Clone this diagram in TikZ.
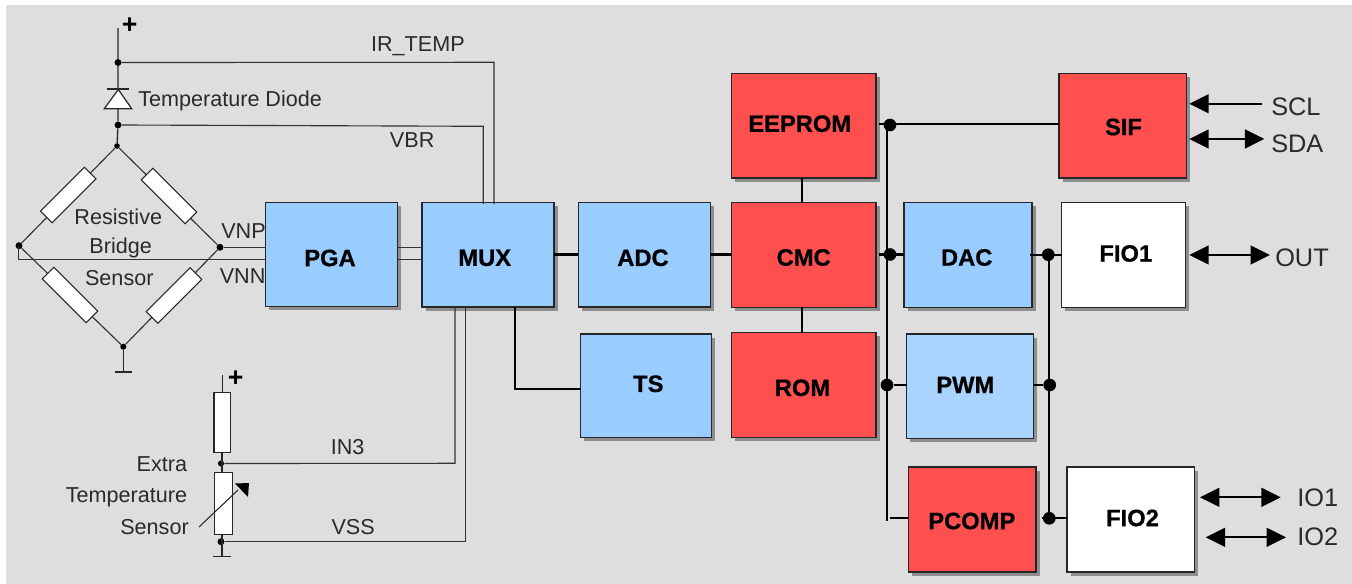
\documentclass[tikz,border=0pt]{standalone}
\usepackage{fontspec}
\setmainfont{Liberation Sans}
\newfontfamily\blockfont[BoldFeatures={FakeBold=0.7}]{Liberation Sans}
\usetikzlibrary{arrows.meta,shadows}
\definecolor{bggrey}{HTML}{DEDEDE}
\definecolor{blk}{HTML}{99CCFF}
\definecolor{blkb}{HTML}{A9D4FF}
\definecolor{redb}{HTML}{FF5050}
\definecolor{txt}{HTML}{2A2A2A}
\definecolor{shadowc}{HTML}{8E8E8E}
\tikzset{
  x=0.75pt,y=-0.75pt,
  block/.style={draw=black!85,line width=1pt,inner sep=0pt,outer sep=0pt,anchor=north west,
    general shadow={fill=shadowc,shadow xshift=2.7pt,shadow yshift=-2.7pt}},
  blue block/.style={block,fill=blk},
  pale block/.style={block,fill=blkb},
  red block/.style={block,fill=redb},
  white block/.style={block,fill=white},
  blocktext/.style={font=\fontsize{17.8}{20}\blockfont\bfseries,inner sep=0pt,text=black},
  wire/.style={draw=black!85,line width=1.0pt},
  bus/.style={draw=black,line width=1.7pt},
  thin wire/.style={draw=black!80,line width=0.85pt},
  lab/.style={font=\fontsize{16.2}{18}\selectfont,text=txt,inner sep=0pt},
  biglab/.style={font=\fontsize{19}{20}\selectfont,text=txt,inner sep=0pt,anchor=base west},
  plusmark/.style={font=\fontsize{20}{20}\selectfont\bfseries,inner sep=0pt},
  dot/.style={circle,fill=black,inner sep=0pt,minimum size=#1},
  dot/.default=5.2pt,
  res/.style={draw=black!85,fill=white,line width=0.8pt,inner sep=0pt,outer sep=0pt},
  arr/.style={draw=black,line width=1.7pt,{Triangle[length=14.5pt,width=14pt]}-{Triangle[length=14.5pt,width=14pt]}},
  arrl/.style={draw=black,line width=1.7pt,{Triangle[length=14.5pt,width=14pt]}-},
}
% name style x1 y1 x2 y2 text tx ty
\newcommand{\blockbox}[9]{%
  \node[#2,minimum width={(#5-#3)*0.75pt},minimum height={(#6-#4)*0.75pt}] (#1) at (#3,#4) {};
  \node[blocktext] (#1t) at (#8,#9) {#7};
}
\begin{document}
\begin{tikzpicture}
\useasboundingbox (0,0) rectangle (1352,584);
\fill[white] (0,0) rectangle (1352,584);
\fill[bggrey] (6,5) rectangle (1352,584);

\coordinate (top) at (118,28);
\node[dot] (d1) at (118,62.5) {};
\node[dot] (d2) at (118,125) {};
\node[dot=4.2pt] (bt) at (117,146) {};
\node[dot] (bl) at (19,245.7) {};
\node[dot] (br) at (220,247.3) {};
\node[dot=4.6pt] (bb) at (123.3,346.7) {};

\draw[wire] (top) -- (d1) -- (d2) -- (bt);
\node[plusmark] (plus1) at (129.7,25.3) {+};

% diode
\path[draw=black!85,fill=white,line width=0.9pt] (118.3,89.5) -- (104.3,108.7) -- (131.7,108.7) -- cycle;
\draw[wire] (106.7,89) -- (129.3,89);
\node[lab,anchor=base west] (diode) at (138,106.7) {Temperature Diode};

% bridge
\draw[thin wire] (bt) -- (bl) -- (bb) -- (br) -- (bt);
\coordinate (g1) at (123.3,372);
\draw[wire] (bb) -- (g1);
\draw[wire] (115,372) -- (132.3,372);
\foreach \n/\cx/\cy/\rot in {r1/68.3/195/45,r2/169/196/-45,r3/70/295/-45,r4/174/295.5/45}{
  \node[res,minimum width=46.5pt,minimum height=12.3pt,rotate=\rot] (\n) at (\cx,\cy) {};
}
\node[lab,anchor=base] (t1) at (118.3,225) {Resistive};
\node[lab,anchor=base] (t2) at (120.7,254) {Bridge};
\node[lab,anchor=base] (t3) at (119.3,286) {Sensor};
\node[lab,anchor=base west] (vnp) at (221,238.3) {VNP};
\node[lab,anchor=base west] (vnn) at (219.5,283.3) {VNN};

% second sensor
\node[dot=4.6pt] (d3) at (221,463.5) {};
\node[dot] (d4) at (221,541.7) {};
\coordinate (ptop) at (222.7,375);
\draw[wire] (ptop) -- (222.7,393);
\draw[wire] (222,452) -- (222,542);
\draw[wire] (222,542) -- (222,556.7);
\draw[wire] (212.5,556.7) -- (231,556.7);
\node[plusmark] (plus2) at (235.7,378.7) {+};
\node[res,minimum width=12.7pt,minimum height=45pt,anchor=north west] (r5) at (214,392.7) {};
\node[res,minimum width=13.7pt,minimum height=46pt,anchor=north west] (r6) at (214.2,472.8) {};
\draw[line width=0.8pt,draw=black!85] (199,527) -- (238,490);
\fill[black] (235,483.5) -- (249,483) -- (248,497) -- cycle;
\node[lab,anchor=base east] (e1) at (187.3,471.7) {Extra};
\node[lab,anchor=base east] (e2) at (187.3,502.7) {Temperature};
\node[lab,anchor=base east] (e3) at (189,534.3) {Sensor};

% blocks
\blockbox{pga}{blue block}{265.7}{202.3}{397.7}{306.8}{PGA}{330}{258}
\blockbox{mux}{blue block}{422}{202.3}{554}{307}{MUX}{484.7}{257.8}
\blockbox{adc}{blue block}{578.3}{202.3}{710.3}{307}{ADC}{643}{257.8}
\blockbox{ts}{blue block}{580.8}{334}{711.7}{437.7}{TS}{648.3}{383.8}
\blockbox{eeprom}{red block}{731.7}{73.3}{876}{178}{EEPROM}{799.7}{123.7}
\blockbox{cmc}{red block}{731.7}{202.3}{876}{307.3}{CMC}{803.7}{257.5}
\blockbox{rom}{red block}{731.7}{332.7}{876}{437.3}{ROM}{802.5}{387.8}
\blockbox{dac}{blue block}{904}{202.3}{1032}{307.3}{DAC}{966.7}{257.5}
\blockbox{pwm}{pale block}{906.7}{334}{1033.3}{438.7}{PWM}{965.3}{385}
\blockbox{pcomp}{red block}{908.3}{467}{1036}{572}{PCOMP}{971.8}{521}
\blockbox{sif}{red block}{1059}{73.3}{1186.7}{178}{SIF}{1123.5}{127}
\blockbox{fio1}{white block}{1061.7}{202.3}{1185.7}{307.3}{FIO1}{1125.8}{253.5}
\blockbox{fio2}{white block}{1067}{467}{1194.7}{572}{FIO2}{1132.5}{518}

% long thin wires
\draw[thin wire] (d1) -- (494,62.3) -- (494,204);
\draw[thin wire] (d2) -- (483.3,126.3) -- (483.3,204);
\draw[thin wire] (br) -- (pga.west |- br);
\draw[thin wire] (18.3,245.7) -- (18.3,259.3) -- (pga.west |- 0,259.3);
\draw[thin wire] (d3) -- (455,463.3) -- (455,307);
\draw[thin wire] (d4) -- (465.5,541.7) -- (465.5,307);
\node[lab,anchor=base west] (irt) at (370.8,51.7) {IR\_TEMP};
\node[lab,anchor=base west] (vbr) at (389.7,148) {VBR};
\node[lab,anchor=base west] (in3) at (330.5,454) {IN3};
\node[lab,anchor=base west] (vss) at (331.3,534.3) {VSS};

% connections
\draw[thin wire] (pga.east |- 0,247.3) -- (mux.west |- 0,247.3);
\draw[thin wire] (pga.east |- 0,259.3) -- (mux.west |- 0,259.3);
\draw[bus] (mux.east |- 0,254.5) -- (adc.west |- 0,254.5);
\draw[bus] (adc.east |- 0,254.5) -- (cmc.west |- 0,254.5);
\draw[bus] (515,307) -- (515,389) -- (ts.west |- 0,389);
\draw[bus] (801.7,178) -- (801.7,202.3);
\draw[bus] (801.7,307.3) -- (801.7,332.7);
\node[dot=9.5pt] (j1) at (890,125) {};
\node[dot=9.5pt] (j2) at (890,254.5) {};
\node[dot=9.5pt] (j3) at (887,385) {};
\node[dot=9.5pt] (j4) at (1048.3,254.7) {};
\node[dot=9.5pt] (j5) at (1049.7,385) {};
\node[dot=9.5pt] (j6) at (1049.3,518.3) {};
\draw[bus] (879,124) -- (sif.west |- 0,124);
\draw[bus] (886.8,124) -- (886.8,520.5);
\draw[bus] (890,518.3) -- (pcomp.west |- 0,518.3);
\draw[bus] (879,254.5) -- (dac.west |- 0,254.5);
\draw[bus] (j3) -- (pwm.west |- j3);
\draw[bus] (1030,254.7) -- (fio1.west |- 0,254.7);
\draw[bus] (pwm.east |- j5) -- (j5);
\draw[bus] (1049,254.7) -- (1049,518.3);
\draw[bus] (1041.7,518.3) -- (fio2.west |- 0,518.3);

% arrows
\coordinate (a1) at (1189.3,103.7);
\coordinate (a1e) at (1261.7,103.7);
\draw[arrl] (a1) -- (a1e);
\coordinate (a2) at (1189.3,139);
\coordinate (a2e) at (1264.3,139);
\draw[arr] (a2) -- (a2e);
\coordinate (a3) at (1189.3,255);
\coordinate (a3e) at (1270,255);
\draw[arr] (a3) -- (a3e);
\coordinate (a4) at (1200,497.3);
\coordinate (a4e) at (1280.7,497.3);
\draw[arr] (a4) -- (a4e);
\coordinate (a5) at (1205.7,537.3);
\coordinate (a5e) at (1286,537.3);
\draw[arr] (a5) -- (a5e);
\node[biglab] (scl) at (1271,116) {SCL};
\node[biglab] (sda) at (1271,152.3) {SDA};
\node[biglab] (out) at (1275,266.7) {OUT};
\node[biglab] (io1) at (1297,506.7) {IO1};
\node[biglab] (io2) at (1297,545.3) {IO2};
\end{tikzpicture}
\end{document}
